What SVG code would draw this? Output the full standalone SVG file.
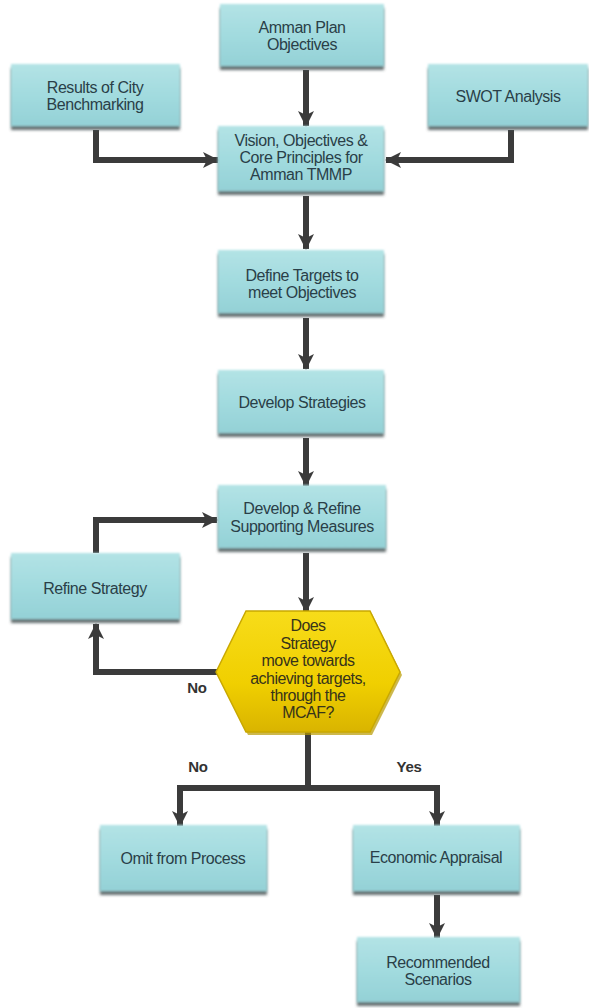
<svg xmlns="http://www.w3.org/2000/svg" width="589" height="1008" viewBox="0 0 589 1008">
<defs>
<linearGradient id="boxg" x1="0" y1="0" x2="0" y2="1">
<stop offset="0" stop-color="#b3e3e5"/>
<stop offset="0.5" stop-color="#a2dbdf"/>
<stop offset="1" stop-color="#94d1d6"/>
</linearGradient>
<linearGradient id="hexg" x1="0" y1="0" x2="0" y2="1">
<stop offset="0" stop-color="#f7dc1a"/>
<stop offset="0.6" stop-color="#f0cf00"/>
<stop offset="1" stop-color="#d9b400"/>
</linearGradient>
<filter id="sh" x="-10%" y="-10%" width="120%" height="130%">
<feGaussianBlur in="SourceAlpha" stdDeviation="1.8" result="b"/>
<feOffset in="b" dy="4" result="o"/>
<feFlood flood-color="#4a5658" flood-opacity="0.85"/>
<feComposite in2="o" operator="in" result="s"/>
<feGaussianBlur in="SourceGraphic" stdDeviation="0.8" result="g"/>
<feMerge><feMergeNode in="s"/><feMergeNode in="g"/></feMerge>
</filter>
<marker id="ah" markerUnits="userSpaceOnUse" markerWidth="18" markerHeight="18" viewBox="0 0 18 18" refX="15" refY="9" orient="auto">
<path d="M0,1 L16,9 L0,17 L4,9 Z" fill="#3b3b3b"/>
</marker>
<style>
.box{fill:url(#boxg);filter:url(#sh);}
.t{font-family:"Liberation Sans",Arial,sans-serif;font-size:16px;letter-spacing:-0.45px;fill:#2a3f48;text-anchor:middle;}
.h{font-family:"Liberation Sans",Arial,sans-serif;font-size:16px;letter-spacing:-0.55px;fill:#37341a;text-anchor:middle;}
.lbl{font-family:"Liberation Sans",Arial,sans-serif;font-size:15px;font-weight:bold;fill:#333;text-anchor:middle;letter-spacing:-0.3px;}
.c{fill:none;stroke:#3b3b3b;stroke-width:6;stroke-linejoin:miter;}
.ca{fill:none;stroke:#3b3b3b;stroke-width:6;marker-end:url(#ah);}
</style>
</defs>

<g id="connectors">
<path class="ca" d="M306,70 V126"/>
<path class="ca" d="M96,130 V160 H218"/>
<path class="ca" d="M511,130 V160 H386"/>
<path class="ca" d="M306,196 V249"/>
<path class="ca" d="M306,318 V369"/>
<path class="ca" d="M306,438 V486"/>
<path class="ca" d="M96,553 V520 H217"/>
<path class="ca" d="M306,553 V612"/>
<path class="ca" d="M218,672 H96 V624"/>
<path class="c" d="M308,730 V788"/>
<path class="c" d="M180,788 H437"/>
<path class="ca" d="M180,785 V826"/>
<path class="ca" d="M437,785 V826"/>
<path class="ca" d="M437,895 V938"/>
</g>

<g id="amman-plan">
<rect class="box" x="220" y="4" width="164" height="62"/>
<text class="t" x="302" y="33">Amman Plan</text>
<text class="t" x="302" y="50">Objectives</text>
</g>
<g id="results-benchmarking">
<rect class="box" x="11" y="64" width="169" height="62"/>
<text class="t" x="95" y="93">Results of City</text>
<text class="t" x="95" y="110">Benchmarking</text>
</g>
<g id="swot">
<rect class="box" x="428" y="64" width="160" height="62"/>
<text class="t" x="508" y="102">SWOT Analysis</text>
</g>
<g id="vision">
<rect class="box" x="218" y="126" width="166" height="65"/>
<text class="t" x="301" y="146">Vision, Objectives &amp;</text>
<text class="t" x="301" y="163">Core Principles for</text>
<text class="t" x="301" y="180">Amman TMMP</text>
</g>
<g id="define-targets">
<rect class="box" x="218" y="250" width="166" height="63"/>
<text class="t" x="302" y="281">Define Targets to</text>
<text class="t" x="302" y="298">meet Objectives</text>
</g>
<g id="develop-strategies">
<rect class="box" x="218" y="370" width="166" height="63"/>
<text class="t" x="302" y="408">Develop Strategies</text>
</g>
<g id="develop-refine">
<rect class="box" x="218" y="485" width="168" height="63"/>
<text class="t" x="302" y="514">Develop &amp; Refine</text>
<text class="t" x="302" y="532">Supporting Measures</text>
</g>
<g id="refine-strategy">
<rect class="box" x="11" y="553" width="169" height="66"/>
<text class="t" x="95" y="594">Refine Strategy</text>
</g>
<g id="decision">
<polygon points="216,672 246,611 370,611 400,672 370,732 246,732" fill="#b89a00" transform="translate(2,3)" opacity="0.7"/>
<polygon points="216,672 246,611 370,611 400,672 370,732 246,732" fill="url(#hexg)" stroke="#c9a800" stroke-width="1.5"/>
<text class="h" x="308" y="631">Does</text>
<text class="h" x="308" y="649">Strategy</text>
<text class="h" x="308" y="666">move towards</text>
<text class="h" x="308" y="684">achieving targets,</text>
<text class="h" x="308" y="701">through the</text>
<text class="h" x="308" y="718">MCAF?</text>
</g>
<g id="omit">
<rect class="box" x="100" y="825" width="167" height="66"/>
<text class="t" x="183" y="864">Omit from Process</text>
</g>
<g id="economic">
<rect class="box" x="353" y="825" width="167" height="66"/>
<text class="t" x="436" y="863">Economic Appraisal</text>
</g>
<g id="recommended">
<rect class="box" x="357" y="937" width="163" height="65"/>
<text class="t" x="438" y="968">Recommended</text>
<text class="t" x="438" y="985">Scenarios</text>
</g>
<g id="labels">
<text class="lbl" x="197" y="693">No</text>
<text class="lbl" x="198" y="772">No</text>
<text class="lbl" x="409" y="772">Yes</text>
</g>
</svg>
